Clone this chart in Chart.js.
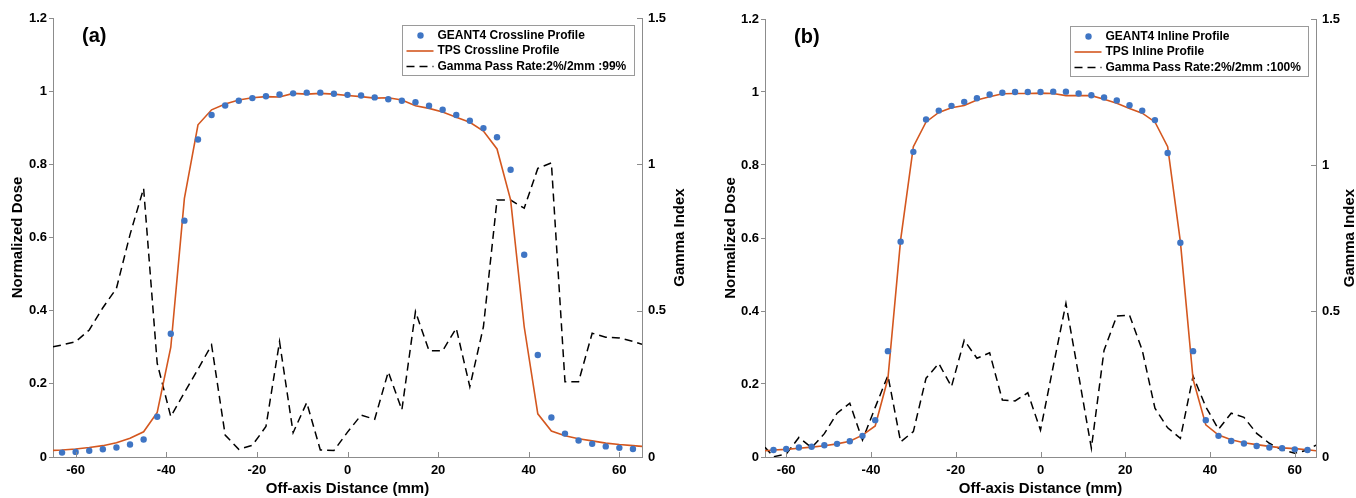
<!DOCTYPE html>
<html>
<head>
<meta charset="utf-8">
<title>Crossline / Inline dose profiles</title>
<script src="https://cdn.jsdelivr.net/npm/chart.js@4.4.1/dist/chart.umd.min.js"></script>
<style>
  html, body { margin: 0; padding: 0; background: #fff; }
  #wrap { position: relative; width: 1356px; height: 498px; }
  #chartA { position: absolute; left: 0; top: 0; }
  #chartB { position: absolute; left: 700px; top: 0; }
</style>
</head>
<body>
<div id="wrap">
  <canvas id="chartA" width="700" height="498"></canvas>
  <canvas id="chartB" width="656" height="498"></canvas>
</div>
<script>
const xTicks     = [-60, -40, -20, 0, 20, 40, 60];
const doseTicks  = [0, 0.2, 0.4, 0.6, 0.8, 1, 1.2];
const gammaTicks = [0, 0.5, 1, 1.5];

// GEANT4 scoring positions (mm)
const xPoints = [-63, -60, -57, -54, -51, -48, -45, -42, -39, -36,
                 -33, -30, -27, -24, -21, -18, -15, -12, -9, -6,
                 -3, 0, 3, 6, 9, 12, 15, 18, 21, 24,
                 27, 30, 33, 36, 39, 42, 45, 48, 51, 54,
                 57, 60, 63];
// TPS / gamma grid, runs out to the axis limits
const xLine = [-65, -63, -60, -57, -54, -51, -48, -45, -42, -39,
               -36, -33, -30, -27, -24, -21, -18, -15, -12, -9,
               -6, -3, 0, 3, 6, 9, 12, 15, 18, 21,
               24, 27, 30, 33, 36, 39, 42, 45, 48, 51,
               54, 57, 60, 63, 65];

// (a) crossline
const geantCross = [0.012, 0.014, 0.017, 0.021, 0.026, 0.034, 0.048, 0.110, 0.337, 0.646,
                    0.868, 0.935, 0.961, 0.974, 0.981, 0.986, 0.991, 0.994, 0.996, 0.996,
                    0.993, 0.990, 0.988, 0.983, 0.978, 0.974, 0.970, 0.960, 0.949, 0.935,
                    0.919, 0.899, 0.874, 0.785, 0.553, 0.279, 0.108, 0.064, 0.045, 0.036,
                    0.029, 0.025, 0.022];
const tpsCross   = [0.018, 0.019, 0.022, 0.026, 0.031, 0.039, 0.051, 0.069, 0.122, 0.300,
                    0.707, 0.908, 0.949, 0.965, 0.976, 0.982, 0.985, 0.984, 0.994, 0.992,
                    0.994, 0.992, 0.988, 0.985, 0.981, 0.982, 0.976, 0.960, 0.953, 0.943,
                    0.929, 0.915, 0.891, 0.842, 0.703, 0.356, 0.118, 0.071, 0.058, 0.050,
                    0.044, 0.038, 0.034, 0.031, 0.029];
const gammaCross = [0.377, 0.383, 0.394, 0.434, 0.510, 0.576, 0.760, 0.918, 0.320, 0.138,
                    0.220, 0.300, 0.383, 0.075, 0.026, 0.040, 0.104, 0.394, 0.083, 0.186,
                    0.024, 0.022, 0.085, 0.143, 0.129, 0.291, 0.161, 0.497, 0.363, 0.363,
                    0.440, 0.240, 0.445, 0.878, 0.878, 0.850, 0.986, 1.005, 0.257, 0.257,
                    0.423, 0.409, 0.407, 0.395, 0.385];

// (b) inline
const geantInline = [0.019, 0.022, 0.026, 0.028, 0.032, 0.036, 0.043, 0.058, 0.101, 0.290,
                     0.590, 0.836, 0.925, 0.949, 0.962, 0.973, 0.983, 0.993, 0.998, 1.000,
                     1.000, 1.000, 1.001, 1.001, 0.996, 0.991, 0.985, 0.977, 0.964, 0.949,
                     0.923, 0.833, 0.587, 0.290, 0.101, 0.058, 0.044, 0.037, 0.030, 0.026,
                     0.024, 0.021, 0.019];
const tpsInline   = [0.017, 0.019, 0.021, 0.024, 0.027, 0.031, 0.036, 0.043, 0.060, 0.085,
                     0.215, 0.595, 0.850, 0.918, 0.944, 0.957, 0.963, 0.978, 0.987, 0.995,
                     0.996, 0.996, 0.997, 0.996, 0.990, 0.990, 0.990, 0.980, 0.969, 0.955,
                     0.942, 0.918, 0.850, 0.590, 0.213, 0.088, 0.060, 0.047, 0.039, 0.034,
                     0.029, 0.025, 0.023, 0.020, 0.017];
const gammaInline = [0.033, 0.001, 0.010, 0.067, 0.032, 0.080, 0.150, 0.184, 0.058, 0.170,
                     0.279, 0.052, 0.087, 0.270, 0.320, 0.241, 0.400, 0.338, 0.357, 0.195,
                     0.192, 0.220, 0.092, 0.310, 0.526, 0.280, 0.030, 0.366, 0.483, 0.486,
                     0.366, 0.167, 0.100, 0.064, 0.277, 0.172, 0.095, 0.150, 0.136, 0.081,
                     0.047, 0.024, 0.013, 0.024, 0.041];

const FAMILY   = '"Liberation Sans", Arial, Helvetica, sans-serif';
const axisGrey = '#8c8c8c';
const dotBlue  = '#3f75c4';
const tpsRed   = '#d4571f';

function pts(xs, ys) {
    return xs.map((x, i) => ({ x: x, y: ys[i] }));
}

// plain labels: 1 rather than 1.0
function plainLabel(v) {
    return String(v);
}

// panel letter, in-plot legend, inward ticks and the right-hand axis title
const panelDecor = {
    id: 'panelDecor',
    afterDraw(chart, args, opts) {
        const { ctx, chartArea: a, scales } = chart;
        ctx.save();

        ctx.strokeStyle = axisGrey;
        ctx.lineWidth = 1;
        ctx.beginPath();
        scales.x.ticks.forEach(t => {
            const px = Math.round(scales.x.getPixelForValue(t.value)) + 0.5;
            ctx.moveTo(px, a.bottom);
            ctx.lineTo(px, a.bottom - 5);
        });
        scales.y2.ticks.forEach(t => {
            const py = Math.round(scales.y2.getPixelForValue(t.value)) + 0.5;
            ctx.moveTo(a.right, py);
            ctx.lineTo(a.right - 5, py);
        });
        ctx.stroke();

        ctx.fillStyle = '#000';
        ctx.font = 'bold 20px ' + FAMILY;
        ctx.textAlign = 'left';
        ctx.textBaseline = 'middle';
        ctx.fillText(opts.label, a.left + 29, a.top + 18);

        // legend box
        const sets = chart.data.datasets;
        ctx.font = 'bold 12px ' + FAMILY;
        const textW = Math.max(...sets.map(d => ctx.measureText(d.label).width));
        const w = Math.round(35 + textW + 8);
        const h = 50;
        const bx = Math.round(a.right - 8 - w) + 0.5;
        const by = Math.round(a.top + 7) + 0.5;
        ctx.fillStyle = '#fff';
        ctx.fillRect(bx, by, w, h);
        ctx.strokeStyle = '#9a9a9a';
        ctx.strokeRect(bx, by, w, h);

        sets.forEach((d, i) => {
            const ry = by + 10 + i * 15.5;
            if (!d.showLine) {
                ctx.fillStyle = d.backgroundColor;
                ctx.beginPath();
                ctx.arc(bx + 18, ry, 3.2, 0, Math.PI * 2);
                ctx.fill();
            } else {
                ctx.strokeStyle = d.borderColor;
                ctx.lineWidth = d.borderWidth;
                ctx.setLineDash(d.borderDash || []);
                ctx.beginPath();
                ctx.moveTo(bx + 4, ry);
                ctx.lineTo(bx + 31, ry);
                ctx.stroke();
                ctx.setLineDash([]);
            }
            ctx.fillStyle = '#000';
            ctx.fillText(d.label, bx + 35, ry);
        });

        ctx.font = 'bold 15px ' + FAMILY;
        ctx.textAlign = 'center';
        ctx.translate(opts.gammaTitleX, (a.top + a.bottom) / 2);
        ctx.rotate(-Math.PI / 2);
        ctx.fillText('Gamma Index', 0, 0);
        ctx.restore();
    }
};

function buildChart(canvasId, cfg) {
    const tickFont = { family: FAMILY, size: 13, weight: 'bold' };
    const titleFont = { family: FAMILY, size: 15, weight: 'bold' };

    return new Chart(document.getElementById(canvasId), {
        type: 'scatter',
        data: {
            datasets: [
                {
                    label: cfg.names[0],
                    data: pts(xPoints, cfg.geant),
                    showLine: false,
                    backgroundColor: dotBlue,
                    pointRadius: 3.2,
                    pointBorderWidth: 0,
                    yAxisID: 'y'
                },
                {
                    label: cfg.names[1],
                    data: pts(xLine, cfg.tps),
                    showLine: true,
                    borderColor: tpsRed,
                    borderWidth: 1.6,
                    pointRadius: 0,
                    tension: 0,
                    yAxisID: 'y'
                },
                {
                    label: cfg.names[2],
                    data: pts(xLine, cfg.gamma),
                    showLine: true,
                    borderColor: '#000',
                    borderWidth: 1.5,
                    borderDash: [8, 5],
                    pointRadius: 0,
                    tension: 0,
                    yAxisID: 'y2'
                }
            ]
        },
        options: {
            responsive: false,
            animation: false,
            events: [],
            devicePixelRatio: 1,
            layout: { padding: { top: cfg.top, left: 0, right: 0, bottom: 0 } },
            plugins: {
                legend: { display: false },
                tooltip: { enabled: false },
                panelDecor: { label: cfg.label, gammaTitleX: cfg.gammaTitleX }
            },
            scales: {
                x: {
                    type: 'linear',
                    min: -65,
                    max: 65,
                    afterBuildTicks: s => { s.ticks = xTicks.map(v => ({ value: v })); },
                    afterFit: s => { s.height = 41; },
                    grid: { drawOnChartArea: false, drawTicks: false },
                    border: { color: axisGrey },
                    ticks: { padding: 6, color: '#000', font: tickFont, maxRotation: 0, callback: plainLabel },
                    title: { display: true, text: 'Off-axis Distance (mm)', color: '#000',
                             font: titleFont, padding: { top: 0, bottom: 0 } }
                },
                y: {
                    position: 'left',
                    min: 0,
                    max: 1.2,
                    afterBuildTicks: s => { s.ticks = doseTicks.map(v => ({ value: v })); },
                    afterFit: s => { s.width = cfg.leftWidth; },
                    grid: { drawOnChartArea: false, tickLength: 4, color: axisGrey },
                    border: { color: axisGrey },
                    ticks: { padding: 2, color: '#000', font: tickFont, callback: plainLabel },
                    title: { display: true, text: 'Normalized Dose', color: '#000',
                             font: titleFont, padding: { top: cfg.leftTitlePad, bottom: 0 } }
                },
                y2: {
                    position: 'right',
                    min: 0,
                    max: 1.5,
                    afterBuildTicks: s => { s.ticks = gammaTicks.map(v => ({ value: v })); },
                    afterFit: s => { s.width = cfg.rightWidth; },
                    grid: { drawOnChartArea: false, drawTicks: false },
                    border: { color: axisGrey },
                    ticks: { padding: 6, color: '#000', font: tickFont, callback: plainLabel }
                }
            }
        },
        plugins: [panelDecor]
    });
}

document.addEventListener('DOMContentLoaded', function () {
    buildChart('chartA', {
        label: '(a)',
        names: ['GEANT4 Crossline Profile', 'TPS Crossline Profile', 'Gamma Pass Rate:2%/2mm :99%'],
        geant: geantCross,
        tps: tpsCross,
        gamma: gammaCross,
        top: 18,
        leftWidth: 53,
        leftTitlePad: 9,
        rightWidth: 58,
        gammaTitleX: 680
    });

    buildChart('chartB', {
        label: '(b)',
        names: ['GEANT4 Inline Profile', 'TPS Inline Profile', 'Gamma Pass Rate:2%/2mm :100%'],
        geant: geantInline,
        tps: tpsInline,
        gamma: gammaInline,
        top: 19,
        leftWidth: 65,
        leftTitlePad: 22,
        rightWidth: 40,
        gammaTitleX: 650
    });
});
</script>
</body>
</html>
